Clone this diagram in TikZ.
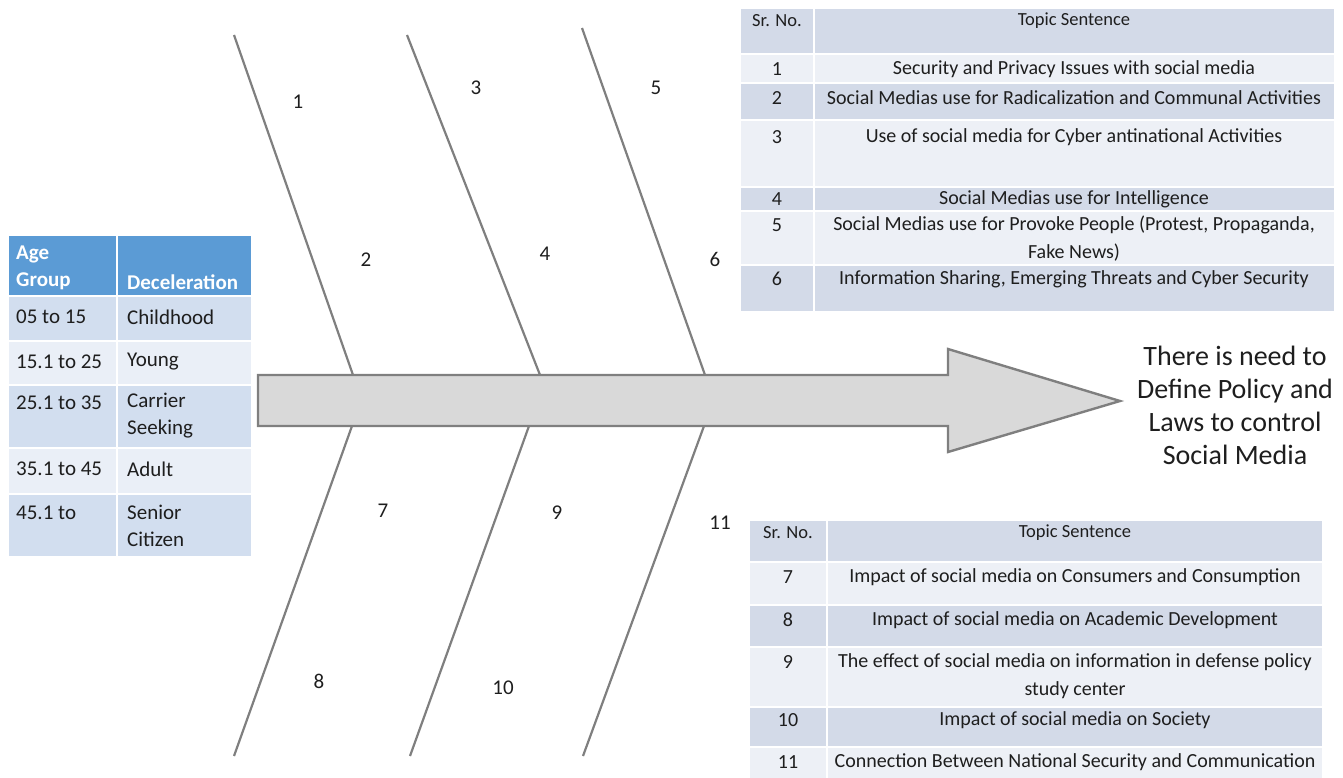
\documentclass[tikz,border=0pt]{standalone}
\usepackage{fontspec}
\setmainfont{Carlito}
\definecolor{bone}{HTML}{7F7F7F}
\definecolor{arrfill}{HTML}{D9D9D9}
\definecolor{hdrblue}{HTML}{5B9BD5}
\definecolor{lbandA}{HTML}{D2DEEF}
\definecolor{lbandB}{HTML}{EAEFF7}
\definecolor{tdark}{HTML}{D3DAE8}
\definecolor{tlight}{HTML}{EDF0F6}
\definecolor{txt}{HTML}{1E1E1E}
\begin{document}
\begin{tikzpicture}[x=1pt,y=-1pt,
  bonestyle/.style={draw=bone,line width=2.2pt},
  numlbl/.style={font=\fontsize{21}{24}\selectfont,text=txt,inner sep=0pt},
  celltxt/.style={font=\fontsize{20}{28}\selectfont,text=txt,inner sep=0pt,align=center},
  hdrtxt/.style={font=\fontsize{18.5}{22}\selectfont,text=txt,inner sep=0pt},
  ltxt/.style={font=\fontsize{21}{27}\selectfont,text=txt,inner sep=0pt,anchor=west,align=left},
  lhdr/.style={font=\fontsize{21}{27}\selectfont\bfseries,text=white,inner sep=0pt,anchor=west,align=left},
  cellbox/.style={draw=white,line width=1.6pt}
]
\useasboundingbox (0,0) rectangle (1343,778);

% ---------- fishbone ----------
\coordinate (b1t) at (234,35);  \coordinate (b1b) at (353,375);
\coordinate (b3t) at (407,35);  \coordinate (b3b) at (540,375);
\coordinate (b5t) at (582,28);  \coordinate (b5b) at (705,375);
\coordinate (b7t) at (352,426); \coordinate (b7b) at (234,756);
\coordinate (b9t) at (529,426); \coordinate (b9b) at (410,756);
\coordinate (b11t) at (704,426); \coordinate (b11b) at (583,756);
\draw[bonestyle] (b1t) -- (b1b);
\draw[bonestyle] (b3t) -- (b3b);
\draw[bonestyle] (b5t) -- (b5b);
\draw[bonestyle] (b7t) -- (b7b);
\draw[bonestyle] (b9t) -- (b9b);
\draw[bonestyle] (b11t) -- (b11b);

\draw[draw=bone,fill=arrfill,line width=2.4pt,line join=miter]
  (258,375) -- (948,375) -- (948,349) -- (1120,401) -- (948,452) -- (948,426) -- (258,426) -- cycle;

\node[numlbl] (n1) at (298,102) {1};
\node[numlbl] (n2) at (366,260) {2};
\node[numlbl] (n3) at (476,88) {3};
\node[numlbl] (n4) at (545,254) {4};
\node[numlbl] (n5) at (656,88) {5};
\node[numlbl] (n6) at (715,259) {6};
\node[numlbl] (n7) at (383,511) {7};
\node[numlbl] (n8) at (319,681) {8};
\node[numlbl] (n9) at (557,513) {9};
\node[numlbl] (n10) at (503,688) {10};
\node[numlbl] (n11) at (720,523) {11};

\node[font=\fontsize{28}{33}\selectfont,text=txt,align=center,inner sep=0pt] (goal) at (1235,405)
  {There is need to\\Define Policy and\\Laws to control\\Social Media};

% ---------- top right table ----------
\foreach \ya/\yb/\c in {8/54/tdark,54/83/tlight,83/120/tdark,120/187/tlight,187/211/tdark,211/265/tlight,265/312/tdark}{
  \path[cellbox,fill=\c] (740,\ya) rectangle (814,\yb);
  \path[cellbox,fill=\c] (814,\ya) rectangle (1335,\yb);
}
\node[hdrtxt] (th1) at (777,21) {Sr. No.};
\node[hdrtxt] (th2) at (1074,21) {Topic Sentence};
\node[celltxt] (tn1) at (777,69) {1};
\node[celltxt] (tt1) at (1074,69) {Security and Privacy Issues with social media};
\node[celltxt] (tn2) at (777,98) {2};
\node[celltxt] (tt2) at (1074,98) {Social Medias use for Radicalization and Communal Activities};
\node[celltxt] (tn3) at (777,137) {3};
\node[celltxt] (tt3) at (1074,137) {Use of social media for Cyber antinational Activities};
\node[celltxt] (tn4) at (777,199) {4};
\node[celltxt] (tt4) at (1074,199) {Social Medias use for Intelligence};
\node[celltxt] (tn5) at (777,225) {5};
\node[celltxt,anchor=center] (tt5) at (1074,239) {Social Medias use for Provoke People (Protest, Propaganda,\\Fake News)};
\node[celltxt] (tn6) at (777,279) {6};
\node[celltxt] (tt6) at (1074,279) {Information Sharing, Emerging Threats and Cyber Security};

% ---------- bottom right table ----------
\foreach \ya/\yb/\c in {520/562/tdark,562/605/tlight,605/647/tdark,647/707/tlight,707/747/tdark,747/790/tlight}{
  \path[cellbox,fill=\c] (749,\ya) rectangle (827,\yb);
  \path[cellbox,fill=\c] (827,\ya) rectangle (1323,\yb);
}
\node[hdrtxt] (bh1) at (788,533) {Sr. No.};
\node[hdrtxt] (bh2) at (1075,533) {Topic Sentence};
\node[celltxt] (bn7) at (788,577) {7};
\node[celltxt] (bt7) at (1075,577) {Impact of social media on Consumers and Consumption};
\node[celltxt] (bn8) at (788,620) {8};
\node[celltxt] (bt8) at (1075,620) {Impact of social media on Academic Development};
\node[celltxt] (bn9) at (788,662) {9};
\node[celltxt] (bt9) at (1075,676) {The effect of social media on information in defense policy\\study center};
\node[celltxt] (bn10) at (788,720) {10};
\node[celltxt] (bt10) at (1075,720) {Impact of social media on Society};
\node[celltxt] (bn11) at (788,762) {11};
\node[celltxt] (bt11) at (1075,762) {Connection Between National Security and Communication};

% ---------- left table ----------
\path[cellbox,fill=hdrblue] (8,235) rectangle (117,296);
\path[cellbox,fill=hdrblue] (117,235) rectangle (252,296);
\foreach \ya/\yb/\c in {296/341/lbandA,341/385/lbandB,385/448/lbandA,448/494/lbandB,494/557/lbandA}{
  \path[cellbox,fill=\c] (8,\ya) rectangle (117,\yb);
  \path[cellbox,fill=\c] (117,\ya) rectangle (252,\yb);
}
\node[lhdr] (lh1) at (16,268) {Age\\Group};
\node[lhdr] (lh2) at (127,282) {Deceleration};
\node[ltxt] (la1) at (16,317) {05 to 15};
\node[ltxt] (ld1) at (127,317) {Childhood};
\node[ltxt] (la2) at (16,362) {15.1 to 25};
\node[ltxt] (ld2) at (127,362) {Young};
\node[ltxt] (la3) at (16,403) {25.1 to 35};
\node[ltxt] (ld3) at (127,416) {Carrier\\Seeking};
\node[ltxt] (la4) at (16,469) {35.1 to 45};
\node[ltxt] (ld4) at (127,469) {Adult};
\node[ltxt] (la5) at (16,513) {45.1 to};
\node[ltxt] (ld5) at (127,526) {Senior\\Citizen};
\end{tikzpicture}
\end{document}
